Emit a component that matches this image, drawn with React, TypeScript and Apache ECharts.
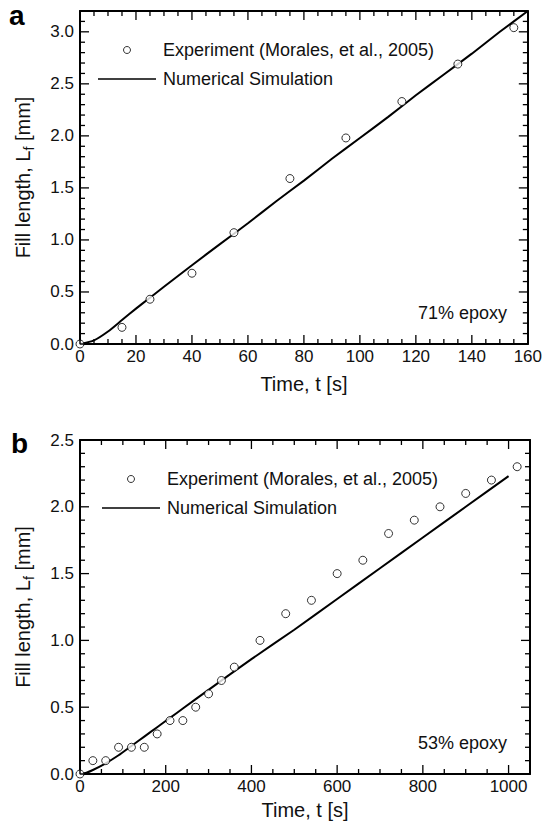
import React, { useEffect, useRef } from "react";
import * as echarts from "echarts";

// ---- data ----
const EXP_NAME = "Experiment (Morales, et al., 2005)";
const SIM_NAME = "Numerical Simulation";

// panel a: 71% epoxy
const expTimeA = [0, 15, 25, 40, 55, 75, 95, 115, 135, 155];
const expFillA = [0, 0.16, 0.43, 0.68, 1.07, 1.59, 1.98, 2.33, 2.69, 3.04];
const simTimeA = [0, 5, 10, 15, 20, 25, 30, 40, 50, 60, 70, 80, 90, 100, 110, 120, 130, 140, 150, 160];
const simFillA = [0, 0.035, 0.12, 0.23, 0.34, 0.445, 0.55, 0.757, 0.96, 1.16, 1.37, 1.57, 1.78, 1.98, 2.18, 2.39, 2.59, 2.79, 3.0, 3.2];

// panel b: 53% epoxy
const expTimeB = [0, 30, 60, 90, 120, 150, 180, 210, 240, 270, 300, 330, 360, 420, 480, 540, 600, 660, 720, 780, 840, 900, 960, 1020];
const expFillB = [0, 0.1, 0.1, 0.2, 0.2, 0.2, 0.3, 0.4, 0.4, 0.5, 0.6, 0.7, 0.8, 1.0, 1.2, 1.3, 1.5, 1.6, 1.8, 1.9, 2.0, 2.1, 2.2, 2.3];
const simTimeB = [0, 15, 30, 60, 90, 120, 150, 180, 210, 240, 300, 400, 500, 600, 700, 800, 900, 1000];
const simFillB = [0, 0.01, 0.03, 0.08, 0.14, 0.21, 0.28, 0.35, 0.42, 0.49, 0.63, 0.86, 1.08, 1.31, 1.54, 1.77, 2.0, 2.23];

// axis ranges / tick steps: [min, max, major, minor]
const xRangeA = [0, 160, 20, 5];
const yRangeA = [0, 3.2, 0.5, 0.1];
const xRangeB = [0, 1050, 200, 50];
const yRangeB = [0, 2.5, 0.5, 0.1];

const panelLabels = ["a", "b"];
const annotations = ["71% epoxy", "53% epoxy"];
const xTitle = "Time, t [s]";

const FONT = '"Liberation Sans", Arial, Helvetica, sans-serif';
const INK = "#111";
const MAJOR_LEN = 9;
const MINOR_LEN = 5;
const TICK_W = 1.3;

const GRIDS = [
  [80, 11, 450, 333],
  [80, 440, 450, 334],
];

function pairs(xs: number[], ys: number[]) {
  return xs.map((x, i) => [x, ys[i]]);
}

// tick values stepping from min like an axis does: [value, length(px)]
function tickList(range: number[]) {
  const [min, max, major, minor] = range;
  const out: number[][] = [];
  const n = Math.round((max - min) / minor);
  const per = Math.round(major / minor);
  for (let i = 0; i <= n; i++) {
    const v = +(min + i * minor).toFixed(6);
    out.push([v, i % per === 0 ? MAJOR_LEN : MINOR_LEN]);
  }
  return out;
}

// inward tick marks on all four sides, as thin rect symbols placed through the axes
function tickItems(xr: number[], yr: number[]) {
  const items: any[] = [];
  tickList(xr).forEach(([v, len]) => {
    items.push({ value: [v, yr[0]], symbolSize: [TICK_W, len], symbolOffset: [0, -len / 2] });
    items.push({ value: [v, yr[1]], symbolSize: [TICK_W, len], symbolOffset: [0, len / 2] });
  });
  tickList(yr).forEach(([v, len]) => {
    items.push({ value: [xr[0], v], symbolSize: [len, TICK_W], symbolOffset: [len / 2, 0] });
    items.push({ value: [xr[1], v], symbolSize: [len, TICK_W], symbolOffset: [-len / 2, 0] });
  });
  return items;
}

const mkLine = () => ({ show: true, onZero: false, lineStyle: { color: "#000", width: 2 } });
const isMajor = (v: number, major: number) => Math.abs(v / major - Math.round(v / major)) < 1e-6;

function xAxes(grid: number, range: number[], nameGap: number) {
  const [min, max, major] = range;
  return [
    {
      type: "value",
      gridIndex: grid,
      min,
      max,
      interval: major,
      position: "bottom",
      splitLine: { show: false },
      axisLine: mkLine(),
      axisTick: { show: false },
      axisLabel: {
        show: true,
        fontSize: 17,
        color: INK,
        fontFamily: FONT,
        margin: 4,
        formatter: (v: number) => (isMajor(v, major) ? String(v) : ""),
      },
      name: xTitle,
      nameLocation: "middle",
      nameGap,
      nameMoveOverlap: false,
      nameTextStyle: { fontSize: 20, color: INK, fontFamily: FONT },
    },
    {
      type: "value",
      gridIndex: grid,
      min,
      max,
      interval: major,
      position: "top",
      splitLine: { show: false },
      axisLine: mkLine(),
      axisTick: { show: false },
      axisLabel: { show: false },
    },
  ];
}

function yAxes(grid: number, range: number[], nameGap: number) {
  const [min, max, major] = range;
  return [
    {
      type: "value",
      gridIndex: grid,
      min,
      max,
      interval: major,
      position: "left",
      splitLine: { show: false },
      axisLine: mkLine(),
      axisTick: { show: false },
      axisLabel: {
        show: true,
        fontSize: 17,
        color: INK,
        fontFamily: FONT,
        margin: 6,
        formatter: (v: number) => (isMajor(v, major) ? v.toFixed(1) : ""),
      },
      name: "{n|Fill length, L}{s|f}{n| [mm]}",
      nameLocation: "middle",
      nameGap,
      nameMoveOverlap: false,
      nameTextStyle: {
        fontSize: 20,
        color: INK,
        fontFamily: FONT,
        rich: {
          n: { fontSize: 20, color: INK, fontFamily: FONT },
          s: { fontSize: 14, color: INK, fontFamily: FONT, padding: [13, 0, 0, 0] },
        },
      },
    },
    {
      type: "value",
      gridIndex: grid,
      min,
      max,
      interval: major,
      position: "right",
      splitLine: { show: false },
      axisLine: mkLine(),
      axisTick: { show: false },
      axisLabel: { show: false },
    },
  ];
}

function seriesFor(axisIndex: number, xr: number[], yr: number[], expX: number[], expY: number[], simX: number[], simY: number[]) {
  return [
    {
      type: "scatter",
      name: "ticks " + axisIndex,
      xAxisIndex: axisIndex,
      yAxisIndex: axisIndex,
      data: tickItems(xr, yr),
      symbol: "rect",
      clip: false,
      silent: true,
      itemStyle: { color: "#000", borderWidth: 0, opacity: 1 },
      z: 4,
    },
    {
      type: "line",
      name: SIM_NAME,
      xAxisIndex: axisIndex,
      yAxisIndex: axisIndex,
      data: pairs(simX, simY),
      symbol: "none",
      smooth: 0.2,
      lineStyle: { color: "#000", width: 2 },
      itemStyle: { color: "#000" },
      z: 2,
    },
    {
      type: "scatter",
      name: EXP_NAME,
      xAxisIndex: axisIndex,
      yAxisIndex: axisIndex,
      data: pairs(expX, expY),
      symbol: "circle",
      symbolSize: 8,
      itemStyle: { color: "#fff", borderColor: "#000", borderWidth: 1 },
      z: 3,
    },
  ];
}

function legendAt(left: number, top: number) {
  return {
    orient: "vertical",
    left,
    top,
    itemWidth: 58,
    itemHeight: 7,
    itemGap: 9,
    selectedMode: false,
    data: [
      { name: EXP_NAME },
      { name: SIM_NAME, icon: "path://M0,0L60,0L60,1.3L0,1.3Z", itemStyle: { color: "#000", borderWidth: 0 } },
    ],
    textStyle: { fontSize: 18, color: INK, fontFamily: FONT, lineHeight: 20, padding: [0, 0, 0, 2] },
    itemStyle: { borderWidth: 1, borderColor: "#000" },
  };
}

const textGraphics = [
  { type: "text", x: 9, y: 15, z: 20, style: { text: panelLabels[0], fontSize: 28, fontWeight: "bold", fontFamily: FONT, fill: "#000", verticalAlign: "middle" } },
  { type: "text", x: 11, y: 443, z: 20, style: { text: panelLabels[1], fontSize: 28, fontWeight: "bold", fontFamily: FONT, fill: "#000", verticalAlign: "middle" } },
  { type: "text", x: 507, y: 313, z: 20, style: { text: annotations[0], fontSize: 18, fontFamily: FONT, fill: INK, align: "right", verticalAlign: "middle" } },
  { type: "text", x: 507, y: 743, z: 20, style: { text: annotations[1], fontSize: 18, fontFamily: FONT, fill: INK, align: "right", verticalAlign: "middle" } },
];

export default function App() {
  const ref = useRef<HTMLDivElement>(null);
  useEffect(() => {
    if (!ref.current) return;
    const chart = echarts.init(ref.current, undefined, { renderer: "svg" });
    chart.setOption({
      animation: false,
      backgroundColor: "#fff",
      textStyle: { fontFamily: FONT },
      grid: GRIDS.map(([left, top, width, height]) => ({ left, top, width, height, containLabel: false })),
      xAxis: [...xAxes(0, xRangeA, 30), ...xAxes(1, xRangeB, 26)],
      yAxis: [...yAxes(0, yRangeA, 44), ...yAxes(1, yRangeB, 44)],
      legend: [legendAt(93, 35), legendAt(97, 464)],
      series: [
        ...seriesFor(0, xRangeA, yRangeA, expTimeA, expFillA, simTimeA, simFillA),
        ...seriesFor(2, xRangeB, yRangeB, expTimeB, expFillB, simTimeB, simFillB),
      ],
      graphic: textGraphics,
    });
    return () => chart.dispose();
  }, []);
  return (
    <div
      ref={ref}
      style={{ position: "absolute", left: 0, top: 0, width: 545, height: 828, background: "#fff" }}
    />
  );
}
